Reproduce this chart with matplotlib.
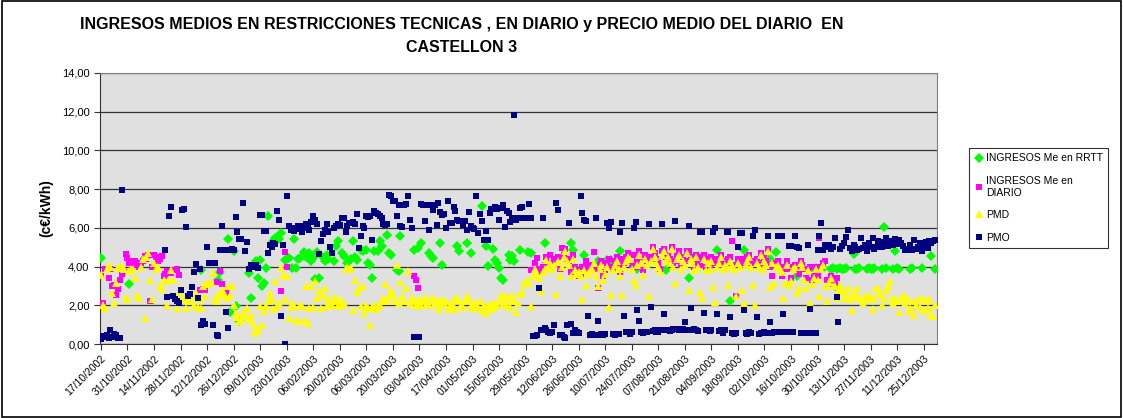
import matplotlib
matplotlib.use("Agg")
import matplotlib.pyplot as plt
from matplotlib.patches import Rectangle
import numpy as np
import pandas as pd

n = None

# dias desde 17/10/2002 hasta 31/12/2003
start_date = "2002-10-17"
end_date = "2003-12-31"

# INGRESOS Me en RRTT (c€/kWh)
rrtt = [
    4.44, n, n, n, n, n, n, n, n, n, n, n, n, n,
    n, 3.08, n, n, n, n, n, n, n, 4.44, n, n, n, n,
    n, n, n, n, n, n, n, n, n, n, n, n, n, n,
    n, n, n, n, n, n, n, n, n, n, n, 3.84, n, n,
    n, n, n, n, n, n, 3.3, 3.7, n, n, n, 5.42, 1.64, n,
    4.78, 1.98, n, 1.17, n, n, n, n, 3.67, 2.37, n, n, 4.27, 3.4,
    4.35, 2.98, 3.15, 3.93, 6.6, n, n, 5.3, 5.5, 5.55, 5.4, 5.73, n, 4.35,
    4.4, 4.45, n, 3.93, 5.4, 3.95, 4.4, 4.45, n, 4.73, 4.5, 4.6, 4.7, 4.3,
    4.45, 3.36, 4.73, 3.4, n, 4.5, 4.3, 4.6, 4.4, n, n, 4.27, 5.05, 5.3,
    n, 4.7, 4.53, n, 4.18, n, 4.4, 5.3, 4.5, 4.36, n, 4.87, 4.8, n,
    4.87, 4.18, 4.1, 3.41, 4.79, n, 4.79, 5.3, 5.05, n, n, 5.65, 4.7, 4.6,
    n, n, 3.84, 3.75, 5.56, n, n, n, n, n, n, 4.87, n, 4.96,
    n, 5.22, n, n, n, 4.7, 4.53, 4.45, n, n, n, 5.22, 4.1, n,
    n, n, n, n, n, n, 5.05, 4.79, n, n, n, 5.22, n, 4.7,
    n, n, n, n, n, 7.15, n, 5.05, 4.05, n, n, 4.9, 4.36, 4.18,
    3.93, 3.41, 3.32, n, n, 4.62, 4.36, 4.53, 4.27, n, n, 4.87, n, n,
    n, 4.73, n, 4.7, n, n, n, n, n, n, 5.22, n, n, n,
    n, n, n, n, n, n, n, n, n, n, 5.22, 4.87, n, n,
    n, n, n, 4.62, n, n, n, n, n, n, 4.27, 3.92, n, n,
    n, 4.35, n, 4.36, n, n, n, n, 4.79, n, n, n, n, n,
    n, n, n, 3.87, n, n, n, n, n, n, n, n, n, n,
    n, n, n, n, 3.8, n, n, n, n, n, n, n, n, n,
    n, n, 3.4, n, n, n, n, n, n, 4.4, n, n, n, n,
    n, n, n, 4.87, n, n, n, n, n, n, 2.2, n, n, n,
    n, n, n, 4.84, n, n, n, n, n, n, n, n, n, n,
    n, n, n, 4.4, n, n, 4.73, n, n, n, n, n, n, n,
    n, n, n, 3.53, n, n, n, n, n, n, n, n, 3.9, 3.95,
    3.9, n, n, 3.95, n, n, n, 3.9, 3.95, 3.0, 3.9, n, 3.95, 3.9,
    3.85, 3.95, n, n, n, 4.66, 3.9, 3.85, 3.95, n, n, n, 3.9, 3.95,
    3.85, 3.9, 3.95, n, n, n, 3.9, 6.02, 3.95, n, n, n, 3.9, 4.82,
    3.95, 3.9, n, n, n, n, n, 3.9, 3.95, n, n, n, n, 3.92,
    n, n, n, n, 4.56, n, 3.9,
]

# INGRESOS Me en DIARIO (c€/kWh)
diario = [
    3.53, 2.12, 3.9, 3.8, 3.4, 3.9, 3.0, 3.07, 2.55, 2.84, 3.32, 3.6, 3.7, 4.65,
    4.44, 4.2, 4.3, 4.15, 4.27, 4.1, 4.0, 4.2, 4.3, 4.53, 4.4, 4.6, 2.2, 4.0,
    4.58, 4.5, 4.3, 4.4, 4.53, 3.5, 3.6, 3.75, 3.7, 3.67, 3.8, 3.84, 3.9, 3.58,
    n, n, n, n, n, n, n, n, n, n, 2.8, 2.8, 2.85, 2.8,
    n, n, n, n, n, 3.2, n, 3.75, 3.1, n, 2.63, n, n, n,
    n, n, n, n, n, n, n, n, n, n, n, n, n, n,
    n, n, n, n, n, n, n, n, n, n, n, 2.75, n, 4.73,
    3.97, n, n, n, n, n, n, n, n, n, n, n, n, n,
    n, n, n, n, n, n, n, n, n, n, n, n, n, n,
    n, n, n, n, n, n, n, n, n, n, n, n, n, n,
    n, n, n, n, n, n, n, n, n, n, n, n, n, n,
    n, n, n, n, n, n, n, n, n, n, n, 3.5, 3.3, 2.9,
    n, n, n, n, n, n, n, n, n, n, n, n, n, n,
    n, n, n, n, n, n, n, n, n, n, n, n, n, n,
    n, n, n, n, n, n, n, n, n, n, n, n, n, n,
    n, n, n, n, n, n, n, n, n, n, n, n, n, n,
    n, n, n, 3.84, 3.8, 4.2, 4.44, 3.9, 3.7, 4.0, 4.1, 4.5, 4.2, 4.6,
    4.1, 4.3, 4.4, 4.5, 3.9, 4.95, 4.6, 4.9, 4.4, 4.3, 3.7, 4.6, 4.0, 3.75,
    3.5, 3.6, 4.0, 4.0, 4.3, 3.8, 4.0, 4.1, 4.73, 3.9, 2.9, 4.1, 4.3, 3.5,
    3.8, 4.2, 4.4, 4.0, 3.9, 4.3, 4.5, 4.1, 3.7, 4.4, 4.2, 4.5, 4.7, 4.6,
    4.1, 4.6, 4.0, 4.3, 4.8, 4.4, 3.8, 4.6, 4.3, 4.5, 4.5, 5.0, 4.7, 4.4,
    4.2, 3.9, 4.8, 4.9, 4.5, 4.6, 4.4, 5.0, 4.2, 4.3, 4.6, 4.78, 4.1, 4.5,
    4.3, 4.8, 4.78, 4.5, 4.4, 4.0, 4.6, 4.2, 4.1, 4.5, 4.6, 4.0, 4.4, 4.1,
    4.5, 4.4, 4.2, 4.2, 4.4, 4.6, 4.1, 4.3, 4.2, 4.4, 4.5, 5.3, 4.1, 2.46,
    4.4, 4.2, 4.4, 4.2, 4.3, 4.5, 4.6, 4.2, 4.3, 4.2, 4.4, 4.2, 4.7, 4.1,
    4.5, 4.3, 4.9, 4.0, 3.5, 4.2, 4.2, 4.3, 4.0, 3.5, 4.0, 3.9, 4.3, 3.9,
    3.4, 4.0, 4.1, 3.8, 3.6, 4.3, 4.1, 3.9, 3.4, 3.9, 4.0, 3.3, 3.5, 4.0,
    3.5, 5.47, 4.0, 4.2, 4.27, 3.3, 3.3, 3.5, 3.1, 3.1, 3.4, n, n, n,
    n, n, n, n, n, n, n, n, n, n, n, n, n, n,
    n, n, n, n, n, n, n, n, n, n, n, n, n, n,
    n, n, n, n, n, n, n, n, n, n, n, n, n, n,
    n, n, n, n, n, n, n,
]

# PMD (c€/kWh)
pmd = [
    3.58, 2.03, 1.86, 3.9, 4.1, 4.0, 2.63, 2.1, 3.15, 4.0, 3.95, 4.05, 3.9, 2.45,
    2.3, 3.75, 3.85, 3.9, 3.4, 2.55, 2.4, 4.0, 4.4, 1.35, 4.5, 4.7, 3.3, 2.3,
    4.2, 3.9, 4.0, 3.0, 2.85, 3.3, 3.25, 2.03, 3.3, 3.8, 3.3, 2.42, 1.86, 2.7,
    2.9, 2.3, 2.3, 1.86, 2.3, 2.2, 2.5, 2.0, 2.63, 1.9, 2.3, 1.86, 2.98, 2.5,
    3.15, 3.1, 3.2, 3.67, 2.3, 2.2, 2.55, 2.6, 2.8, 2.63, 2.4, 3.0, 2.55, 3.0,
    2.03, 1.6, 1.4, 1.17, 1.26, 1.6, 1.5, 1.86, 1.3, 1.5, 1.1, 0.57, 0.77, 0.7,
    1.98, 1.0, 1.69, 1.95, 2.2, 2.63, 2.3, 1.8, 3.24, 1.95, 2.1, 4.0, 3.58, 2.3,
    3.5, 1.34, 1.9, 2.1, 1.95, 1.26, 1.17, 2.0, 1.95, 1.26, 3.0, 1.1, 1.86, 2.98,
    1.9, 3.24, 2.38, 2.72, 1.86, 2.55, 2.9, 1.95, 2.3, 2.1, 2.0, 2.45, 2.2, 1.95,
    2.3, 2.0, 2.1, 3.85, 4.0, 3.9, 3.95, 1.77, 3.3, 2.7, 2.9, 1.95, 3.0, 1.6,
    2.0, 1.85, 1.0, 1.9, 2.0, 1.8, 1.95, 2.0, 2.2, 2.4, 3.1, 2.2, 2.5, 2.8,
    2.6, 2.2, 4.1, 2.1, 3.2, 2.5, 2.2, 2.9, 3.75, 2.1, 2.45, 2.2, 2.0, 1.95,
    2.3, 2.0, 2.2, 2.45, 2.1, 2.0, 2.3, 2.4, 2.1, 2.2, 1.8, 2.0, 2.35, 2.1,
    2.2, 1.8, 1.95, 2.1, 2.3, 1.8, 2.4, 2.25, 2.0, 1.9, 2.2, 2.5, 2.35, 1.95,
    1.85, 2.1, 2.0, 1.9, 2.2, 1.75, 2.0, 1.6, 1.95, 1.8, 2.1, 1.85, 2.05, 2.0,
    2.2, 2.55, 2.1, 2.5, 1.95, 2.3, 1.9, 2.55, 2.2, 1.63, 2.1, 2.6, 2.72, 3.15,
    3.24, 3.2, 3.15, 1.98, 3.5, 3.9, 3.6, 3.4, 2.72, 3.7, 3.85, 4.35, 4.0, 4.2,
    3.9, 4.1, 2.6, 4.3, 3.5, 4.0, 4.5, 4.78, 4.3, 4.1, 3.53, 4.4, 3.8, 3.6,
    3.7, 3.5, 2.32, 3.84, 3.06, 3.6, 3.8, 3.9, 4.2, 3.5, 3.0, 3.9, 4.1, 3.3,
    3.6, 4.0, 1.9, 2.55, 3.8, 4.1, 4.3, 3.9, 3.5, 2.55, 4.0, 4.3, 4.5, 4.4,
    3.9, 3.3, 3.06, 4.1, 4.6, 4.2, 3.58, 4.4, 4.1, 2.46, 4.3, 4.9, 4.5, 4.2,
    4.0, 3.75, 4.6, 4.8, 4.3, 4.5, 4.2, 4.9, 4.0, 3.15, 4.4, 4.6, 3.9, 4.3,
    4.1, 4.7, 2.77, 4.4, 4.2, 3.8, 4.5, 4.0, 2.67, 2.38, 4.4, 3.8, 4.2, 3.9,
    4.3, 2.94, 2.15, 4.0, 4.2, 4.5, 3.9, 4.1, 4.0, 3.06, 4.3, 4.1, 3.9, 2.46,
    4.2, 4.0, 2.77, 2.12, 4.1, 4.3, 4.5, 4.0, 3.06, 2.03, 4.2, 4.0, 4.6, 3.9,
    4.3, 4.1, 4.8, 2.92, 4.2, 3.15, 4.0, 4.1, 3.9, 3.7, 2.38, 3.15, 4.1, 3.06,
    3.24, 3.9, 4.0, 2.63, 2.9, 4.2, 4.0, 3.3, 2.9, 3.8, 2.12, 3.1, 3.4, 3.9,
    3.3, 2.46, 3.9, 4.1, 2.98, 2.2, 3.2, 3.4, 3.0, 2.98, 2.38, 2.7, 3.06, 2.8,
    2.4, 2.6, 2.9, 2.3, 1.77, 2.7, 2.5, 2.9, 2.4, 2.3, 2.12, 2.5, 2.35, 2.55,
    2.3, 1.8, 2.4, 2.9, 2.85, 2.6, 2.03, 2.38, 2.8, 3.0, 3.24, 2.3, 2.1, 2.38,
    2.2, 1.63, 2.3, 2.55, 2.1, 2.4, 1.7, 1.86, 2.2, 1.5, 2.03, 2.3, 1.9, 2.4,
    1.7, 2.2, 1.86, 2.3, 1.5, 1.43, 2.03,
]

# PMO (c€/kWh)
pmo = [
    0.25, 0.4, 0.35, 0.45, 0.3, 0.7, 0.35, 0.5, 0.45, 0.3, 0.3, 7.95, n, n,
    n, n, n, n, n, n, n, n, n, n, n, n, n, n,
    n, n, n, n, n, n, 4.84, 2.45, 6.6, 7.07, 2.5, 2.3, 2.2, 2.1,
    2.8, 6.9, 6.95, 6.04, 2.5, 2.6, 2.93, 3.72, 4.15, 2.4, 3.9, 1.0, 1.17, 1.05,
    5.0, 4.18, 4.18, 0.96, 4.2, 0.45, 0.43, 4.85, 6.1, 4.85, 1.64, 0.83, 4.88, 4.9,
    4.85, 6.56, 5.8, 5.4, 5.4, 7.28, 4.8, 5.25, 3.9, 4.1, 4.05, 4.0, 4.1, 3.95,
    6.64, 6.64, 5.82, 5.82, 4.7, 5.1, 5.0, 5.2, 5.15, 6.85, 6.4, 1.43, 5.13, 0.0,
    7.63, 6.08, 5.9, 6.0, 5.85, 5.95, 6.1, 6.05, 5.8, 6.1, 6.2, 6.0, 5.9, 6.3,
    6.6, 6.4, 6.2, 4.66, 5.3, 5.7, 5.9, 6.2, 5.8, 5.0, 4.7, 6.0, 6.1, 6.2,
    6.15, 6.5, 6.5, 5.8, 6.1, 6.25, 6.25, 6.3, 6.2, 6.7, 4.95, 5.56, 6.1, 6.0,
    6.6, 6.55, 6.6, 5.35, 6.85, 6.75, 6.7, 6.6, 6.5, 6.2, 6.17, 6.2, 7.72, 7.65,
    7.4, 7.37, 6.62, 7.2, 6.08, 6.05, 7.2, 7.25, 7.63, 6.42, 6.0, 0.36, 0.36, 0.36,
    0.36, 7.25, 7.2, 6.34, 7.2, 5.9, 7.2, 6.94, 7.2, 6.15, 7.28, 6.8, 6.68, 6.7,
    6.0, 7.37, 6.25, 6.25, 7.1, 6.85, 6.42, 6.33, 6.33, 6.17, 6.33, 5.9, 6.8, 6.1,
    6.0, 5.94, 7.66, 5.73, 6.73, 6.38, 5.39, 5.82, 5.39, 6.77, 6.97, 7.0, 7.1, 6.97,
    6.4, 7.03, 7.2, 6.04, 6.85, 6.77, 6.3, 6.5, 11.85, 6.4, 6.5, 7.03, 7.1, 6.5,
    6.5, 6.5, 7.25, 6.5, 0.4, 0.4, 0.45, 2.9, 0.7, 6.5, 0.83, 0.74, 0.62, 0.57,
    0.6, 1.0, 7.28, 6.9, 0.48, 0.48, 0.35, 0.3, 1.0, 6.25, 1.05, 0.57, 0.74, 0.6,
    0.57, 7.63, 6.77, 6.4, 6.34, 1.43, 0.48, 0.5, 0.48, 6.5, 1.17, 0.48, 0.5, 0.48,
    0.5, 6.25, 6.0, 6.28, 0.5, 0.48, 0.5, 0.52, 5.8, 6.25, 1.46, 0.62, 0.6, 0.5,
    0.62, 6.0, 6.28, 1.77, 1.17, 0.6, 0.55, 0.62, 0.6, 6.2, 1.91, 0.65, 0.7, 0.6,
    0.62, 0.7, 6.2, 1.57, 0.7, 0.72, 0.68, 0.7, 0.8, 6.33, 0.75, 0.7, 0.72, 0.75,
    1.12, 0.72, 6.1, 1.84, 0.72, 0.75, 0.7, 0.65, 5.78, 5.78, 1.62, 0.7, 0.72, 0.65,
    0.7, 5.8, 6.0, 1.57, 0.65, 0.7, 0.55, 0.7, 5.78, 5.78, 1.4, 0.55, 0.52, 0.55,
    5.0, 5.73, 5.73, 1.74, 0.55, 0.5, 0.6, 0.55, 5.6, 5.9, 1.4, 0.5, 0.55, 0.55,
    0.6, 0.55, 5.56, 1.12, 0.55, 0.62, 0.6, 5.56, 0.62, 5.56, 1.57, 0.62, 0.6, 5.08,
    5.08, 0.6, 5.6, 5.0, 4.96, 0.57, 0.57, 0.55, 0.57, 5.13, 1.81, 0.57, 0.57, 0.57,
    4.84, 5.56, 6.25, 4.84, 5.13, 5.0, 5.13, 4.9, 5.0, 5.47, 2.41, 1.14, 4.9, 5.08,
    5.2, 5.51, 5.87, 4.95, 4.8, 5.13, 5.0, 4.85, 4.9, 5.47, 4.95, 5.1, 4.8, 5.2,
    5.0, 5.47, 4.9, 5.0, 5.3, 5.1, 5.0, 5.25, 5.47, 5.05, 5.2, 5.3, 5.1, 5.4,
    5.15, 5.35, 5.2, 5.05, 4.87, 4.9, 4.87, 5.1, 4.85, 5.35, 4.9, 5.0, 5.2, 4.8,
    5.1, 5.25, 4.95, 5.3, 5.2, 5.3, 5.35,
]

dates = pd.date_range(start_date, end_date, freq="D")
for name, s in [("rrtt", rrtt), ("diario", diario), ("pmd", pmd), ("pmo", pmo)]:
    assert len(s) == len(dates), (name, len(s), len(dates))

plt.rcParams['font.family'] = ['Liberation Sans', 'DejaVu Sans']

fig = plt.figure(figsize=(11.23, 4.18), dpi=100)
ax = fig.add_axes([100 / 1123, 74 / 418, 837 / 1123, 271 / 418])
ax.set_facecolor('#e0e0e0')

x = np.arange(len(dates))
series = [
    (rrtt, 'INGRESOS Me en RRTT', 'D', '#00ff00', 4.6),
    (diario, 'INGRESOS Me en\nDIARIO', 's', '#ff00ff', 4.9),
    (pmd, 'PMD', '^', '#ffff00', 6.2),
    (pmo, 'PMO', 's', '#000080', 4.9),
]
for vals, label, mk, col, ms in series:
    ax.plot(x, np.array(vals, dtype=float), linestyle='none', marker=mk,
            color=col, markersize=ms, markeredgewidth=0, label=label, zorder=3)

ax.set_xlim(-0.5, 441)
ax.set_ylim(0, 14)
ax.set_yticks(np.arange(0, 15, 2))
ax.set_yticklabels([f"{v:.2f}".replace('.', ',') for v in np.arange(0, 15, 2)], fontsize=8)
ax.yaxis.grid(True, color='#333333', linewidth=0.9)
ax.set_axisbelow(True)

tick_pos = np.arange(0, len(dates), 14)
ax.set_xticks(tick_pos)
ax.set_xticklabels([dates[i].strftime('%d/%m/%Y') for i in tick_pos],
                   rotation=45, ha='right', rotation_mode='anchor', fontsize=7.5)
ax.tick_params(axis='both', direction='out', length=4, width=0.8, color='#333333')
ax.tick_params(axis='x', pad=3)

for sp in ['top', 'right']:
    ax.spines[sp].set_color('#808080')
for sp in ['left', 'bottom']:
    ax.spines[sp].set_color('#333333')

ax.set_ylabel('(c€/kWh)', fontsize=10, fontweight='bold', labelpad=6)

fig.text(462 / 1123, 1 - 36 / 418,
         'INGRESOS MEDIOS EN RESTRICCIONES TECNICAS , EN DIARIO y PRECIO MEDIO DEL DIARIO  EN\nCASTELLON 3',
         ha='center', va='center', fontsize=11.5, fontweight='bold', linespacing=1.75,
         family=['Liberation Sans Narrow', 'Liberation Sans', 'DejaVu Sans'])

leg = fig.legend(loc='upper left', bbox_to_anchor=(964 / 1123, 1 - 143 / 418),
                 fontsize=7.5, frameon=True, fancybox=False, edgecolor='black',
                 numpoints=1, handlelength=0.8, handletextpad=0.3,
                 labelspacing=1.2, borderpad=0.5)
leg.get_frame().set_linewidth(0.8)

fig.patches.append(Rectangle((0.002, 0.003), 0.996, 0.994, transform=fig.transFigure,
                             fill=False, edgecolor='black', linewidth=1.2))

fig.savefig('out.png', dpi=100)
